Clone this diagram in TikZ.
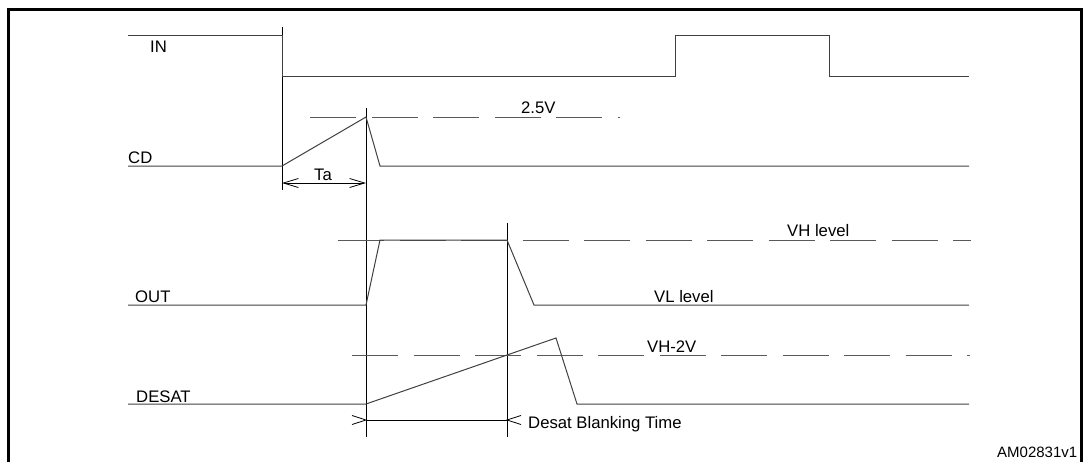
\documentclass[tikz,border=0pt]{standalone}
\usepackage{fontspec}
\setmainfont{Liberation Sans}
\usetikzlibrary{arrows.meta}

\def\In{IN}
\def\Cd{CD}
\def\Out{OUT}
\def\Desat{DESAT}

\begin{document}
\begin{tikzpicture}[x=1pt,y=-1pt,
  every node/.style={font=\fontsize{16.7}{20}\selectfont,
  inner sep=0pt,anchor=base west},
  wave/.style={line width=1pt,black!75},
  marker/.style={line width=0.9pt},
  level/.style={line width=1pt,black!65,dash pattern=on 46pt off 15.5pt},
  dim/.style={line width=0.8pt,
  {Straight Barb[length=15pt,width=9pt]}-{Straight Barb[length=15pt,width=9pt]}},]

\useasboundingbox (0,0) rectangle (1088,461);

% Frame
\draw[line width=3pt] (8,470) -- (8,9) -- (1081.5,9) -- (1081.5,470);

% Time markers
\coordinate (t0 top) at (282,27);
\coordinate (t0 bottom) at (282,190);
\coordinate (t1 top) at (366,108);
\coordinate (t1 bottom) at (366,437);
\coordinate (t2 top) at (507,223);
\coordinate (t2 bottom) at (507,437);

\draw[marker]
  (t0 top) -- (t0 bottom)
  (t1 top) -- (t1 bottom)
  (t2 top) -- (t2 bottom);

% Threshold levels (dashed)
\draw[level] (310,117) -- (620,117);
\draw[level] (338,240) -- (971,240);
\draw[level] (352,355) -- (970,355);

% Waveforms
\draw[wave] (128,35) -- (282,35) -- (282,76) -- (675,76)
  -- (675,35) -- (829,35) -- (829,76) -- (969,76);
\draw[wave] (128,166) -- (282,166) -- (366,117) -- (380,166) -- (969,166);
\draw[wave] (128,305) -- (366,305) -- (380,240) -- (507,240)
  -- (534,305) -- (969,305);
\draw[wave] (128,404) -- (366,404) -- (556,338) -- (577,404) -- (969,404);

% Ta
\coordinate (Ta left) at (282,183);
\coordinate (Ta right) at (366,183);
\draw[dim] (Ta left) -- (Ta right);

% Desat blanking time
\coordinate (Blank left) at (366,420);
\coordinate (Blank right) at (507,420);
\draw[line width=0.8pt] (Blank left) -- (Blank right);
\draw[line width=0.8pt]
  ([shift={(-14,-4.5)}]Blank left) -- (Blank left) -- ([shift={(-14,4.5)}]Blank left)
  ([shift={(14,-4.5)}]Blank right) -- (Blank right) -- ([shift={(14,4.5)}]Blank right);

% Signal labels
\fill
  (150,52) node {\In}
  (128,163) node {\Cd}
  (135,302) node {\Out}
  (136,402) node {\Desat};

% Level and time labels
\fill
  (314,180) node {Ta}
  (521,113) node {2.5V}
  (787,236) node {VH level}
  (654,302) node {VL level}
  (647,352) node {VH-2V}
  (528,428) node {Desat Blanking Time}
  (997,457) node[font=\fontsize{15}{18}\selectfont] {AM02831v1};

\end{tikzpicture}
\end{document}
